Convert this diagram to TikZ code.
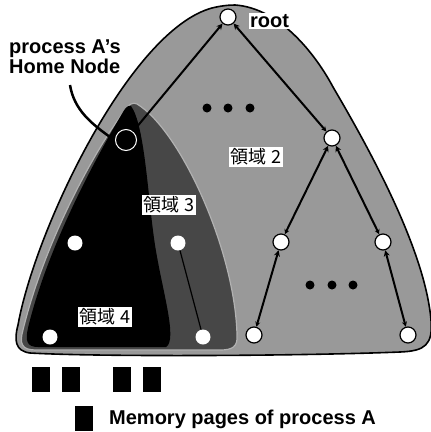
\documentclass[tikz,border=0pt]{standalone}
\usepackage{fontspec}
\setmainfont{Liberation Sans}
\newfontfamily\jp{Noto Sans CJK JP}
\usetikzlibrary{arrows.meta}
\begin{document}
\begin{tikzpicture}[x=1pt,y=-1pt,
  tnode/.style={circle,draw=black,fill=white,line width=1.2pt,minimum size=16pt,inner sep=0pt},
  wnode/.style={circle,fill=white,minimum size=15pt,inner sep=0pt},
  dotnode/.style={circle,fill=black,minimum size=9pt,inner sep=0pt},
  region/.style={fill=white,inner sep=2pt,font=\jp\fontsize{18}{18}\selectfont},
  edge/.style={line width=2pt,{Stealth[length=5pt,width=5pt]}-{Stealth[length=6pt,width=6pt]}},
  page/.style={fill=black,draw=none,minimum width=18pt,minimum height=25pt,inner sep=0pt},
  lbl/.style={font=\bfseries\fontsize{20}{20}\selectfont,inner sep=1pt}]
\useasboundingbox (0,0) rectangle (431,432);
% region 2
\draw[line width=1.6pt,fill=black!40]
  (235,5) .. controls (280,8) and (316,55) .. (333,87)
  .. controls (370,150) and (425,250) .. (431,320)
  .. controls (433,345) and (425,351) .. (400,352)
  .. controls (300,356) and (100,357) .. (30,353)
  .. controls (15,351) and (14,340) .. (18,325)
  .. controls (35,230) and (130,30) .. (212,8)
  .. controls (220,6) and (228,5) .. (235,5) -- cycle;
% region 3
\draw[draw=black!30,line width=1.2pt,fill=black!72]
  (137,104) .. controls (180,130) and (235,250) .. (237,335)
  .. controls (238,347) and (232,350) .. (220,350)
  -- (36,350) .. controls (22,350) and (19,344) .. (23,330)
  .. controls (45,240) and (95,150) .. (125,110)
  .. controls (129,104) and (133,102) .. (137,104) -- cycle;
% region 4
\fill[black]
  (131,106) .. controls (145,125) and (148,200) .. (155,245)
  .. controls (162,290) and (178,340) .. (166,347)
  -- (38,347) .. controls (27,347) and (25,341) .. (28,328)
  .. controls (48,245) and (97,156) .. (123,112)
  .. controls (126,107) and (128,105) .. (131,106) -- cycle;
% nodes
\node[tnode] (root) at (228,17) {};
\node[tnode] (n1) at (332,138) {};
\node[tnode] (n2) at (281,242) {};
\node[tnode] (n3) at (383,242) {};
\node[tnode] (n4) at (254,335) {};
\node[tnode] (n5) at (408,335) {};
\node[circle,draw=white,fill=black,line width=1pt,minimum size=21pt,inner sep=0pt] (home) at (126,140) {};
\node[wnode] (m1) at (75,243) {};
\node[wnode] (m2) at (178,243) {};
\node[wnode] (m3) at (50,337) {};
\node[wnode] (m4) at (203,337) {};
% edges
\draw[line width=2pt,-{Stealth[length=6pt,width=6pt]}] (home) -- (root);
\draw[edge] (n1) -- (root);
\draw[edge] (n2) -- (n1);
\draw[edge] (n3) -- (n1);
\draw[edge] (n4) -- (n2);
\draw[edge] (n5) -- (n3);
\draw[line width=1.2pt,black] (m4) -- (m2);
% dots
\node[dotnode] (d1) at (207,108) {};
\node[dotnode] (d2) at (228,108) {};
\node[dotnode] (d3) at (250,108) {};
\node[dotnode] (d4) at (310,285) {};
\node[dotnode] (d5) at (332,285) {};
\node[dotnode] (d6) at (353,285) {};
% labels
\node[region] (r2) at (256,157) {領域 2};
\node[region] (r3) at (169,205) {領域 3};
\node[region] (r4) at (105,317) {領域 4};
\node[lbl,fill=white,anchor=west] (rootlbl) at (249,21) {root};
\node[lbl,align=left,anchor=north west] (homelbl) at (8,39) {process A’s\\Home Node};
\coordinate (ptrs) at (70,85);
\coordinate (ptre) at (110,137);
\draw[line width=2.5pt] (ptrs) .. controls (74,110) and (92,124) .. (ptre);
% memory pages
\node[page,anchor=north west] (p1) at (32,367) {};
\node[page,anchor=north west] (p2) at (62,367) {};
\node[page,anchor=north west] (p3) at (113,367) {};
\node[page,anchor=north west] (p4) at (143,367) {};
\node[page,anchor=north west] (pl) at (75,406) {};
\node[lbl,anchor=west] (legend) at (108,419) {Memory pages of process A};
\end{tikzpicture}
\end{document}
